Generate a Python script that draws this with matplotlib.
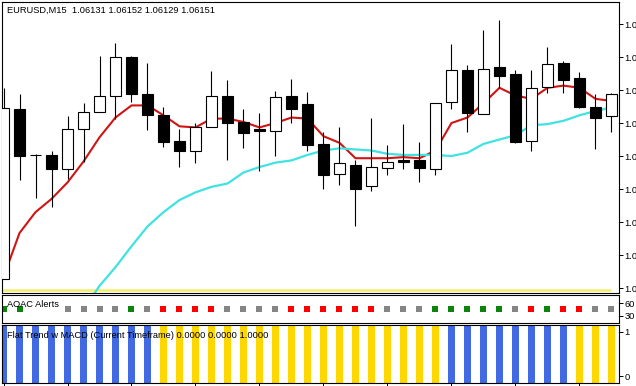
import matplotlib
matplotlib.use("Agg")
import matplotlib.pyplot as plt

# ---------------- data ----------------
title_text = "EURUSD,M15  1.06131 1.06152 1.06129 1.06151"
opens = [1.05983, 1.06138, 1.06096, 1.06096, 1.06083, 1.06120, 1.06135, 1.06150, 1.06185, 1.06151,
         1.06132, 1.06109, 1.06100, 1.06121, 1.06150, 1.06126, 1.06120, 1.06118, 1.06150, 1.06142,
         1.06106, 1.06079, 1.06087, 1.06068, 1.06084, 1.06091, 1.06091, 1.06083, 1.06144, 1.06173,
         1.06133, 1.06176, 1.06170, 1.06109, 1.06158, 1.06180, 1.06166, 1.06140, 1.06131]
highs = [1.06157, 1.06151, 1.06097, 1.06100, 1.06131, 1.06143, 1.06186, 1.06198, 1.06186, 1.06180,
         1.06140, 1.06120, 1.06125, 1.06172, 1.06164, 1.06138, 1.06134, 1.06154, 1.06165, 1.06153,
         1.06117, 1.06121, 1.06091, 1.06130, 1.06105, 1.06124, 1.06108, 1.06143, 1.06197, 1.06178,
         1.06210, 1.06219, 1.06173, 1.06173, 1.06194, 1.06181, 1.06171, 1.06151, 1.06152]
lows = [1.05983, 1.06073, 1.06057, 1.06049, 1.06074, 1.06090, 1.06135, 1.06129, 1.06144, 1.06119,
        1.06103, 1.06085, 1.06089, 1.06121, 1.06091, 1.06102, 1.06081, 1.06095, 1.06125, 1.06100,
        1.06065, 1.06069, 1.06031, 1.06063, 1.06078, 1.06083, 1.06071, 1.06078, 1.06138, 1.06117,
        1.06133, 1.06157, 1.06107, 1.06100, 1.06152, 1.06152, 1.06139, 1.06101, 1.06117]
closes = [1.06139, 1.06095, 1.06096, 1.06083, 1.06120, 1.06135, 1.06150, 1.06185, 1.06151, 1.06132,
          1.06108, 1.06100, 1.06121, 1.06150, 1.06125, 1.06116, 1.06118, 1.06149, 1.06138, 1.06105,
          1.06078, 1.06089, 1.06065, 1.06085, 1.06090, 1.06090, 1.06084, 1.06143, 1.06173, 1.06134,
          1.06174, 1.06168, 1.06108, 1.06157, 1.06179, 1.06164, 1.06140, 1.06130, 1.06151]

ma_fast = [1.05985, 1.06025, 1.06044, 1.06056, 1.06071, 1.06090, 1.06112, 1.06130, 1.06141, 1.06141,
           1.06132, 1.06122, 1.06121, 1.06129, 1.06129, 1.06126, 1.06121, 1.06125, 1.06130, 1.06129,
           1.06113, 1.06107, 1.06093, 1.06093, 1.06093, 1.06094, 1.06093, 1.06100, 1.06125, 1.06130,
           1.06143, 1.06157, 1.06150, 1.06147, 1.06157, 1.06159, 1.06157, 1.06147, 1.06145]
ma_slow_start = 5
ma_slow = [1.05955, 1.05977, 1.05994, 1.06013, 1.06031, 1.06044, 1.06055, 1.06062, 1.06067, 1.06070,
           1.06080, 1.06085, 1.06089, 1.06091, 1.06096, 1.06100, 1.06102, 1.06101, 1.06100, 1.06097,
           1.06096, 1.06096, 1.06096, 1.06095, 1.06098, 1.06106, 1.06110, 1.06114, 1.06123, 1.06124,
           1.06127, 1.06132, 1.06136, 1.06139]
level_line = 1.05973
price_ticks = [1.05975, 1.06005, 1.06035, 1.06065, 1.06095, 1.06125, 1.06155, 1.06185, 1.06215]
price_tick_labels = ["1.0"] * len(price_ticks)   # price labels as visible (truncated at the edge)

# AOAC Alerts signals: g = green, r = red, s = gray, None = no dot
aoac_label = "AOAC Alerts"
aoac_value = 46
aoac_signals = ['g', 'g', None, None, 's', 's', 's', 's', 'g', 's',
                'r', 'r', 'r', 'r', 's', 's', 's', 's', 'r', 'r',
                'r', 'r', 'r', 'r', 's', 's', 's', 'g', 'g', 'g',
                'g', 'g', 's', 'r', 'g', 'r', 'r', 's', 's']
aoac_ticks = [30, 60]

# Flat Trend w MACD: 'b' = up (blue), 'y' = flat/down (yellow)
flat_label = "Flat Trend w MACD (Current Timeframe) 0.0000 0.0000 1.0000"
flat_state = ['b'] * 10 + ['y'] * 18 + ['b'] * 8 + ['y'] * 3
flat_ticks = [0, 1]

# ---------------- figure ----------------
W, H = 636, 386
fig = plt.figure(figsize=(W / 100, H / 100), dpi=100)
fig.patch.set_facecolor('white')
FONT = 'Liberation Sans'
FS = 6.7


def px_axes(left, top, right, bottom):
    return fig.add_axes([left / W, 1 - bottom / H, (right - left) / W, (bottom - top) / H])


ax1 = px_axes(2, 2, 619, 293)
ax2 = px_axes(2, 295, 619, 323)
ax3 = px_axes(2, 325, 619, 383)

n = len(opens)
xs = list(range(n))
XL = (-0.094, 38.47)

for ax in (ax1, ax2, ax3):
    ax.set_facecolor('white')
    ax.set_xlim(*XL)
    for sp in ax.spines.values():
        sp.set_linewidth(0.8)
        sp.set_color('black')
    ax.yaxis.tick_right()
    ax.tick_params(axis='y', which='both', direction='out', length=2.8, width=0.7,
                   pad=1.0, labelsize=FS, colors='black')
    ax.set_xticks([])

# main pane
ax1.set_ylim(1.059705, 1.06235)
ax1.plot(xs, ma_fast, color='#d01414', lw=1.5, zorder=2, solid_joinstyle='round')
ax1.plot(list(range(ma_slow_start, ma_slow_start + len(ma_slow))), ma_slow,
         color='#40e2e2', lw=1.6, zorder=2)
ax1.hlines(level_line, XL[0], n - 1, color='#f3ee6e', lw=1.8, zorder=1)
for i in xs:
    o, h, l, c = opens[i], highs[i], lows[i], closes[i]
    ax1.vlines(i, l, h, color='black', lw=0.8, zorder=3)
    bottom = min(o, c)
    height = max(abs(c - o), 0.0000035)
    face = 'white' if c > o else 'black'
    ax1.bar(i, height, width=0.69, bottom=bottom, facecolor=face, edgecolor='black',
            linewidth=0.8, zorder=4)
ax1.set_yticks(price_ticks)
ax1.set_yticklabels(price_tick_labels, family=FONT, fontsize=FS)

# AOAC pane
ax2.set_ylim(13.8, 78.5)
cmap = {'g': '#0a840a', 'r': '#ff0000', 's': '#858585'}
for i, s in enumerate(aoac_signals):
    if s is None:
        continue
    ax2.scatter([i], [aoac_value], marker='s', s=13, color=cmap[s], linewidths=0, zorder=2)
ax2.set_yticks(aoac_ticks)
ax2.set_yticklabels([str(v) for v in aoac_ticks], family=FONT, fontsize=FS)
ax2.text(5 / 617, 0.66, aoac_label, transform=ax2.transAxes,
         fontsize=FS, family=FONT, va='center', ha='left', zorder=5)

# Flat trend pane
lo, hi = -0.159, 1.159
ax3.set_ylim(lo, hi)
bcol = {'b': '#4169e1', 'y': '#ffd700'}
for i, s in enumerate(flat_state):
    ax3.bar(i, hi - lo, bottom=lo, width=0.4, color=bcol[s], linewidth=0, zorder=2)
ax3.set_yticks(flat_ticks)
ax3.set_yticklabels([str(v) for v in flat_ticks], family=FONT, fontsize=FS)
ax3.set_xticks(list(range(0, n, 4)))
ax3.set_xticklabels([''] * len(range(0, n, 4)))
ax3.tick_params(axis='x', direction='out', length=2.5, width=0.7, colors='black')
ax3.text(5 / 617, 0.82, flat_label, transform=ax3.transAxes,
         fontsize=FS, family=FONT, va='center', ha='left', zorder=5)

# title
fig.text(7 / W, 1 - 10.5 / H, title_text, fontsize=FS, family=FONT, va='center', ha='left')

fig.savefig('out.png', dpi=100)
